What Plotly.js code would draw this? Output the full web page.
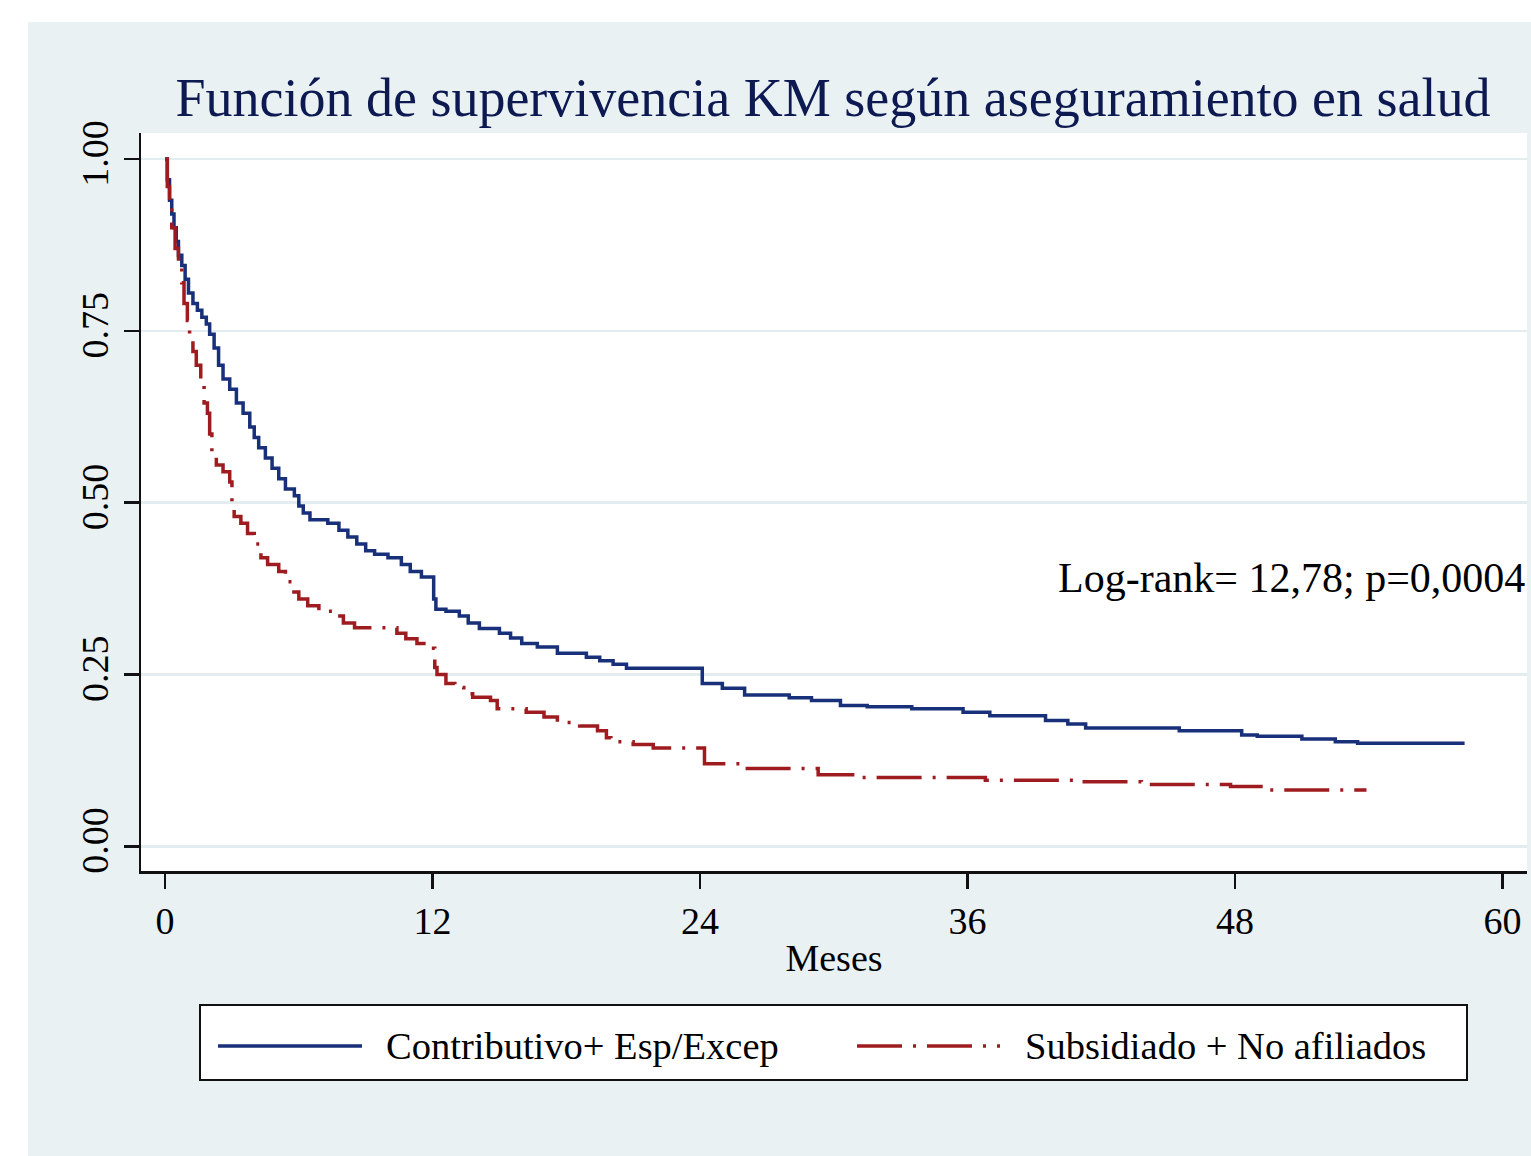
<!DOCTYPE html>
<html>
<head>
<meta charset="utf-8">
<script src="https://cdn.plot.ly/plotly-3.0.1.min.js"></script>
<style>
html,body{margin:0;padding:0;background:#ffffff;}
#chart{position:absolute;left:28px;top:22px;width:1503px;height:1134px;}
</style>
</head>
<body>
<div id="chart"></div>
<script>
// ---- Data ----
const seriesNames = ["Contributivo+ Esp/Excep", "Subsidiado + No afiliados"];

const timeContrib = [0,0.1,0.2,0.3,0.4,0.5,0.6,0.75,0.9,1.05,1.25,1.45,1.65,1.85,2.0,2.2,2.4,2.6,2.9,3.2,3.5,3.8,4.0,4.2,4.5,4.8,5.1,5.4,5.8,6.0,6.2,6.5,7.3,7.8,8.2,8.6,9.0,9.4,10.0,10.6,11.0,11.5,12.05,12.15,12.6,13.2,13.6,14.1,15.0,15.5,16.0,16.7,17.6,18.9,19.5,20.1,20.7,24.1,25.0,26.0,28.0,29.0,30.3,31.5,33.5,35.8,37.0,39.5,40.5,41.3,45.5,48.3,49.0,51.0,52.5,53.5,58.3];
const survContrib = [1.0,0.97,0.94,0.92,0.90,0.88,0.86,0.845,0.825,0.805,0.79,0.78,0.77,0.76,0.745,0.725,0.70,0.68,0.665,0.645,0.63,0.61,0.595,0.58,0.565,0.55,0.535,0.52,0.51,0.495,0.485,0.475,0.47,0.46,0.45,0.44,0.43,0.425,0.42,0.41,0.40,0.392,0.36,0.345,0.342,0.335,0.325,0.317,0.31,0.303,0.295,0.29,0.281,0.275,0.27,0.265,0.259,0.237,0.23,0.22,0.216,0.212,0.205,0.203,0.20,0.195,0.19,0.183,0.178,0.172,0.168,0.162,0.16,0.156,0.152,0.15,0.15];

const timeSubsid = [0,0.1,0.2,0.3,0.45,0.6,0.75,0.85,1.0,1.1,1.25,1.4,1.6,1.75,1.9,2.0,2.1,2.3,2.6,2.9,3.0,3.1,3.4,3.7,4.0,4.3,4.6,5.1,5.4,5.7,6.0,6.4,6.9,7.5,8.0,8.5,10.4,10.8,11.3,11.9,12.1,12.2,12.6,13.0,13.4,13.8,14.6,14.9,16.2,17.0,17.6,18.6,19.4,19.8,20.0,21.0,21.9,24.2,25.8,29.3,31.0,36.8,41.0,43.8,47.8,49.4,53.9];
const survSubsid = [1.0,0.96,0.93,0.90,0.87,0.85,0.82,0.79,0.765,0.745,0.72,0.70,0.67,0.645,0.63,0.60,0.57,0.555,0.545,0.53,0.50,0.48,0.47,0.455,0.44,0.42,0.41,0.40,0.385,0.37,0.36,0.35,0.342,0.335,0.325,0.318,0.31,0.302,0.295,0.288,0.26,0.25,0.237,0.231,0.222,0.217,0.212,0.20,0.195,0.188,0.18,0.175,0.168,0.158,0.152,0.148,0.143,0.12,0.113,0.104,0.10,0.096,0.094,0.09,0.087,0.082,0.082];

const xTicks = [0,12,24,36,48,60];
const yTicks = [0,0.25,0.5,0.75,1];
const yTickText = ["0.00","0.25","0.50","0.75","1.00"];

const titleText = "Función de supervivencia KM según aseguramiento en salud";
const xTitle = "Meses";
const noteText = "Log-rank= 12,78; p=0,0004";

// ---- Styles ----
const blue = "#182f7a";
const red = "#9e1c20";
const redDash = "45px,11px,3px,11px";
const serif = "Liberation Serif, Times New Roman, serif";

const traces = [
  {x: timeContrib, y: survContrib, type: "scatter", mode: "lines", name: seriesNames[0],
   line: {color: blue, width: 3.5, shape: "hv"}, showlegend: false, hoverinfo: "x+y"},
  {x: timeSubsid, y: survSubsid, type: "scatter", mode: "lines", name: seriesNames[1],
   line: {color: red, width: 3.5, shape: "hv", dash: redDash}, showlegend: false, hoverinfo: "x+y"}
];

// plot geometry inside the div (pixels)
const W = 1503, H = 1134;
const mL = 113, mR = 4, mT = 111, mB = 285;
const pw = W - mL - mR, ph = H - mT - mB;
function px2x(px){ return (px - 28 - mL) / pw; }
function py2y(py){ return (H - mB - (py - 22)) / ph; }

const legY = py2y(1046);
const shapes = [
  {type: "rect", xref: "paper", yref: "paper", x0: px2x(200), x1: px2x(1467), y0: py2y(1005), y1: py2y(1080),
   line: {color: "#111111", width: 2}, fillcolor: "#ffffff", layer: "below"},
  {type: "line", xref: "paper", yref: "paper", x0: px2x(218), x1: px2x(362), y0: legY, y1: legY,
   line: {color: blue, width: 3.5}},
  {type: "line", xref: "paper", yref: "paper", x0: px2x(857), x1: px2x(1000), y0: legY, y1: legY,
   line: {color: red, width: 3.5, dash: redDash}}
];

const annotations = [
  {text: noteText, xref: "paper", yref: "y", x: 1.0, y: 0.39, xanchor: "right", yanchor: "middle",
   showarrow: false, font: {family: serif, size: 42, color: "#000000"}},
  {text: seriesNames[0], xref: "paper", yref: "paper", x: px2x(384), y: legY, xanchor: "left", yanchor: "middle",
   showarrow: false, font: {family: serif, size: 38.5, color: "#000000"}},
  {text: seriesNames[1], xref: "paper", yref: "paper", x: px2x(1023), y: legY, xanchor: "left", yanchor: "middle",
   showarrow: false, font: {family: serif, size: 38.5, color: "#000000"}}
];

const layout = {
  width: W, height: H,
  paper_bgcolor: "#eaf1f3",
  plot_bgcolor: "#ffffff",
  margin: {l: mL, r: mR, t: mT, b: mB, pad: 0},
  showlegend: false,
  title: {text: titleText, x: (833 - 28) / W, xanchor: "center", xref: "container",
          y: 1 - (97 - 22) / H, yanchor: "middle", yref: "container",
          font: {family: serif, size: 54, color: "#0d1a52"}},
  xaxis: {
    range: [-1.08, 61.1], tickvals: xTicks, ticktext: xTicks.map(String),
    showgrid: false, zeroline: false, showline: true, linecolor: "#111111", linewidth: 2.5,
    ticks: "outside", ticklen: 15, tickwidth: 2.5, tickcolor: "#111111",
    tickfont: {family: serif, size: 38, color: "#000000"},
    title: {text: xTitle, font: {family: serif, size: 38, color: "#000000"}, standoff: 4},
    fixedrange: true
  },
  yaxis: {
    range: [-0.036, 1.038], tickvals: yTicks, ticktext: yTickText, tickangle: -90,
    showgrid: true, gridcolor: "#e3edf0", gridwidth: 2.5, zeroline: false,
    showline: true, linecolor: "#111111", linewidth: 2.5,
    ticks: "outside", ticklen: 15, tickwidth: 2.5, tickcolor: "#111111",
    tickfont: {family: serif, size: 38, color: "#000000"},
    fixedrange: true
  },
  shapes: shapes,
  annotations: annotations
};

Plotly.newPlot("chart", traces, layout, {displayModeBar: false, staticPlot: true});
</script>
</body>
</html>
